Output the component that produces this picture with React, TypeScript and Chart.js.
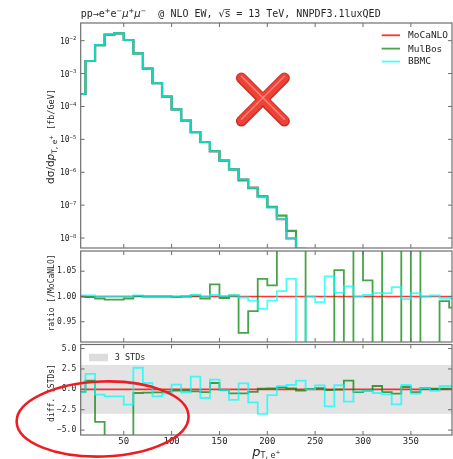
import React, { useEffect, useRef } from "react";
import { Chart, registerables } from "chart.js";

Chart.register(...registerables);

// ---------------- data ----------------
const BIN_EDGES = [0, 10, 20, 30, 40, 50, 60, 70, 80, 90, 100, 110, 120, 130, 140, 150, 160, 170, 180, 190, 200,
  210, 220, 230, 240, 250, 260, 270, 280, 290, 300, 310, 320, 330, 340, 350, 360, 370, 380, 390, 400];
const X_MIN = 5;
const X_MAX = 393;
const X_TICKS = [50, 100, 150, 200, 250, 300, 350];

const SERIES = ["MoCaNLO", "MulBos", "BBMC"];

const XSEC_MOCANLO = [2.39e-4, 2.41e-3, 7.38e-3, 1.52e-2, 1.67e-2, 1.05e-2, 4.12e-3, 1.41e-3, 5.16e-4, 1.99e-4,
  8.18e-5, 3.7e-5, 1.67e-5, 8.3e-6, 4.33e-6, 2.25e-6, 1.23e-6, 6.1e-7, 3.4e-7, 1.8e-7,
  8.7e-8, 3.76e-8, 9.7e-9, 4.0e-9, 2.9e-9, 1.9e-9, 1.2e-9, 7.8e-10, 5.1e-10, 3.3e-10,
  2.2e-10, 1.4e-10, 9.3e-11, 6.1e-11, 4.0e-11, 2.6e-11, 1.7e-11, 1.1e-11, 7.4e-12, 4.9e-12];
const XSEC_MULBOS = [2.39e-4, 2.41e-3, 7.35e-3, 1.51e-2, 1.66e-2, 1.05e-2, 4.12e-3, 1.41e-3, 5.16e-4, 1.99e-4,
  8.17e-5, 3.7e-5, 1.67e-5, 8.27e-6, 4.43e-6, 2.24e-6, 1.23e-6, 5.66e-7, 3.3e-7, 1.86e-7,
  8.9e-8, 4.8e-8, 1.66e-8, 4.7e-9, 2.0e-9, 1.4e-9, 0.9e-9, 8.2e-10, 4.0e-10, 4.3e-10,
  2.27e-10, 1.1e-10, 1.2e-10, 8.0e-11, 3.2e-11, 3.4e-11, 1.3e-11, 0.9e-11, 7.3e-12, 4.8e-12];
const XSEC_BBMC = [2.39e-4, 2.41e-3, 7.38e-3, 1.52e-2, 1.67e-2, 1.05e-2, 4.12e-3, 1.41e-3, 5.16e-4, 1.99e-4,
  8.18e-5, 3.7e-5, 1.67e-5, 8.3e-6, 4.34e-6, 2.25e-6, 1.23e-6, 6.09e-7, 3.37e-7, 1.76e-7,
  8.6e-8, 3.8e-8, 1.0e-8, 3.2e-9, 2.9e-9, 1.88e-9, 1.25e-9, 7.85e-10, 5.2e-10, 3.3e-10,
  2.2e-10, 1.41e-10, 9.4e-11, 6.2e-11, 3.98e-11, 2.62e-11, 1.7e-11, 1.1e-11, 7.38e-12, 4.89e-12];
const XSEC_TICKS = [1e-8, 1e-7, 1e-6, 1e-5, 1e-4, 1e-3, 1e-2];

const RATIO_MOCANLO = [1, 1, 1, 1, 1, 1, 1, 1, 1, 1, 1, 1, 1, 1, 1, 1, 1, 1, 1, 1,
  1, 1, 1, 1, 1, 1, 1, 1, 1, 1, 1, 1, 1, 1, 1, 1, 1, 1, 1, 1];
const RATIO_MULBOS = [1.0, 0.999, 0.996, 0.994, 0.994, 0.996, 1.001, 1.0, 1.0, 1.0,
  0.999, 1.0, 1.002, 0.996, 1.024, 0.997, 1.002, 0.928, 0.971, 1.035,
  1.022, 1.25, 1.6, 1.3, 0.7, 0.75, 0.8, 1.052, 0.8, 1.3,
  1.032, 0.8, 1.3, 1.3, 0.8, 1.3, 0.8, 0.8, 0.991, 0.978];
const RATIO_BBMC = [1.002, 1.002, 1.0, 1.0, 1.0, 1.0, 1.002, 1.0, 1.0, 1.0,
  1.0, 1.0, 1.003, 1.0, 1.003, 1.001, 1.002, 0.998, 0.992, 0.9755,
  0.992, 1.0106, 1.035, 0.8, 1.0, 0.989, 1.04, 1.007, 1.02, 1.0,
  1.003, 1.0066, 1.0066, 1.0185, 0.995, 1.0066, 1.0, 1.002, 0.997, 0.997];
const RATIO_TICKS = [0.95, 1.0, 1.05];

const DIFF_MOCANLO = [0, 0, 0, 0, 0, 0, 0, 0, 0, 0, 0, 0, 0, 0, 0, 0, 0, 0, 0, 0,
  0, 0, 0, 0, 0, 0, 0, 0, 0, 0, 0, 0, 0, 0, 0, 0, 0, 0, 0, 0];
const DIFF_MULBOS = [-0.3, 1.06, -4.0, -7.0, -7.0, -7.0, -0.45, -0.4, -0.37, -0.29,
  -0.16, -0.16, -0.25, -0.33, 0.78, -0.1, -0.5, -0.5, -0.3, 0.08,
  0.12, 0.25, 0.12, -0.16, 0.04, 0.16, -0.08, -0.04, 1.06, -0.33,
  -0.16, 0.41, -0.33, -0.53, 0.29, -0.33, 0.16, 0.08, 0.08, 0.08];
const DIFF_BBMC = [-0.33, 1.9, -0.65, -0.86, -0.86, -1.88, 2.65, 0.78, -0.86, -0.53,
  0.57, -0.41, 1.55, -1.06, 1.2, -0.1, -1.3, 0.73, -1.6, -3.0,
  -0.7, 0.4, 0.53, 1.06, 0.0, 0.49, -2.1, 0.5, -1.5, -0.25,
  -0.16, -0.45, -0.62, -1.84, 0.53, -0.53, 0.16, -0.2, 0.41, 0.41];
const DIFF_TICKS = [-5, -2.5, 0, 2.5, 5];
const STD_BAND = 3;

// annotation overlays seen on the picture (data coordinates)
const CROSS_AT = { x: 195.4, y: 1.69e-4 };
const ELLIPSE_AT = { x: 27.9, y: -3.64 };

// ---------------- style ----------------
const MONO = "'DejaVu Sans Mono', monospace";
const SANS = "'DejaVu Sans', sans-serif";
const TEXT = "#262626";
const FRAME = "#6e6e6e";
const COLORS = ["rgba(255,0,0,0.8)", "rgba(0,128,0,0.72)", "rgba(0,255,255,0.72)"];
const AXIS_W = 80.7;

type Seg = { t: string; font: string; dy?: number };

function drawRich(ctx: CanvasRenderingContext2D, segs: Seg[], x: number, y: number, align: "left" | "center" | "right") {
  ctx.textAlign = "left";
  ctx.textBaseline = "alphabetic";
  const widths = segs.map((s) => {
    ctx.font = s.font;
    return ctx.measureText(s.t).width;
  });
  const total = widths.reduce((a, b) => a + b, 0);
  let cx = align === "center" ? x - total / 2 : align === "right" ? x - total : x;
  segs.forEach((s, i) => {
    ctx.font = s.font;
    ctx.fillText(s.t, cx, y + (s.dy || 0));
    cx += widths[i];
  });
}

function stepPoints(values: number[]) {
  // with stepped 'before', point i's value is held over [edge i, edge i+1]
  return BIN_EDGES.map((x, i) => ({ x, y: values[Math.min(i, values.length - 1)] }));
}

function lineDs(i: number, values: number[], width: number) {
  return {
    label: SERIES[i],
    data: stepPoints(values),
    borderColor: COLORS[i],
    backgroundColor: COLORS[i],
    borderWidth: width,
    stepped: "before" as const,
    pointRadius: 0,
    fill: false,
    order: 2 - i,
  };
}

function xScale(showLabels: boolean, fitHeight: number) {
  return {
    type: "linear" as const,
    min: X_MIN,
    max: X_MAX,
    afterBuildTicks: (s: any) => {
      s.ticks = X_TICKS.map((v) => ({ value: v }));
    },
    ticks: {
      display: showLabels,
      font: { family: MONO, size: 9 },
      color: TEXT,
      padding: 1,
      maxRotation: 0,
      autoSkip: false,
      callback: (v: any) => String(v),
    },
    grid: { display: false, drawTicks: false },
    border: { display: false },
    afterFit: (s: any) => {
      s.height = fitHeight;
      s.paddingLeft = 0;
      s.paddingRight = 0;
    },
  };
}

function yScale(type: "linear" | "logarithmic", min: number, max: number, ticks: number[], showLabels: boolean, cb: (v: number) => string) {
  return {
    type,
    min,
    max,
    afterBuildTicks: (s: any) => {
      s.ticks = ticks.map((v) => ({ value: v }));
    },
    ticks: {
      display: showLabels,
      font: { family: MONO, size: 8 },
      color: TEXT,
      padding: 4.5,
      autoSkip: false,
      callback: (v: any) => cb(Number(v)),
    },
    grid: { display: false, drawTicks: false },
    border: { display: false },
    afterFit: (s: any) => {
      s.width = AXIS_W;
      s.paddingTop = 0;
      s.paddingBottom = 0;
    },
  };
}

function drawFrame(chart: any, yTicks: number[]) {
  const { ctx, chartArea: a, scales } = chart;
  ctx.save();
  ctx.strokeStyle = FRAME;
  ctx.lineWidth = 1.2;
  ctx.strokeRect(a.left, a.top, a.right - a.left, a.bottom - a.top);
  ctx.lineWidth = 1;
  const L = 4;
  ctx.beginPath();
  X_TICKS.forEach((v) => {
    const px = scales.x.getPixelForValue(v);
    ctx.moveTo(px, a.top);
    ctx.lineTo(px, a.top + L);
    ctx.moveTo(px, a.bottom);
    ctx.lineTo(px, a.bottom - L);
  });
  yTicks.forEach((v) => {
    const py = scales.y.getPixelForValue(v);
    ctx.moveTo(a.left, py);
    ctx.lineTo(a.left + L, py);
    ctx.moveTo(a.right, py);
    ctx.lineTo(a.right - L, py);
  });
  ctx.stroke();
  ctx.restore();
}

function drawVerticalLabel(ctx: CanvasRenderingContext2D, segs: Seg[], x: number, y: number) {
  ctx.save();
  ctx.fillStyle = TEXT;
  ctx.translate(x, y);
  ctx.rotate(-Math.PI / 2);
  drawRich(ctx, segs, 0, 0, "center");
  ctx.restore();
}

const MINUS = "\u2212";

function makeTopConfig(): any {
  return {
    type: "line",
    data: {
      datasets: [lineDs(2, XSEC_BBMC, 2.2), lineDs(1, XSEC_MULBOS, 2.2), lineDs(0, XSEC_MOCANLO, 2.2)],
    },
    options: {
      responsive: false,
      animation: false,
      events: [],
      layout: { padding: { left: 0, right: 1, top: 23, bottom: 2 } },
      plugins: { legend: { display: false }, tooltip: { enabled: false }, title: { display: false } },
      scales: {
        x: xScale(false, 0),
        y: yScale("logarithmic", 4.97e-9, 0.0345, XSEC_TICKS, false, (v) => String(v)),
      },
    },
    plugins: [
      {
        id: "topDecor",
        afterDraw(chart: any) {
          const { ctx, chartArea: a, scales } = chart;
          drawFrame(chart, XSEC_TICKS);
          ctx.save();
          ctx.fillStyle = TEXT;
          // log tick labels 10^n
          XSEC_TICKS.forEach((v) => {
            const py = scales.y.getPixelForValue(v);
            const e = String(Math.round(Math.log10(v))).replace("-", MINUS);
            drawRich(
              ctx,
              [
                { t: "10", font: `8px ${MONO}` },
                { t: e, font: `5.5px ${MONO}`, dy: -3.5 },
              ],
              a.left - 4.5,
              py + 3,
              "right"
            );
          });
          // title
          const m = `10px ${MONO}`;
          const sp = `6.8px ${SANS}`;
          drawRich(
            ctx,
            [
              { t: "pp\u2192e", font: m },
              { t: "+", font: sp, dy: -4 },
              { t: "e", font: m },
              { t: MINUS, font: sp, dy: -4 },
              { t: "\u03bc", font: `italic 10px ${SANS}` },
              { t: "+", font: sp, dy: -4 },
              { t: "\u03bc", font: `italic 10px ${SANS}` },
              { t: MINUS, font: sp, dy: -4 },
              { t: "  @ NLO EW, ", font: m },
              { t: "\u221as\u0305", font: `10px ${SANS}` },
              { t: " = 13\u2009TeV, NNPDF3.1luxQED", font: m },
            ],
            a.left,
            17,
            "left"
          );
          // y label
          drawVerticalLabel(
            ctx,
            [
              { t: "d\u03c3/d", font: `10.5px ${SANS}` },
              { t: "p", font: `italic 10.5px ${SANS}` },
              { t: "T, e", font: `7.5px ${SANS}`, dy: 2.5 },
              { t: "+", font: `5.5px ${SANS}`, dy: -1 },
              { t: " [fb/GeV]", font: `8.5px ${MONO}` },
            ],
            a.left - 26.5,
            136.5
          );
          // legend
          const rows = [a.top + 12.3, a.top + 25.6, a.top + 38.5];
          SERIES.forEach((name, i) => {
            ctx.strokeStyle = COLORS[i];
            ctx.lineWidth = 1.8;
            ctx.beginPath();
            ctx.moveTo(a.right - 70.3, rows[i]);
            ctx.lineTo(a.right - 52, rows[i]);
            ctx.stroke();
            ctx.font = `9.5px ${MONO}`;
            ctx.textAlign = "left";
            ctx.textBaseline = "middle";
            ctx.fillStyle = TEXT;
            ctx.fillText(name, a.right - 44, rows[i] + 0.5);
          });
          // red cross annotation
          const cx = scales.x.getPixelForValue(CROSS_AT.x);
          const cy = scales.y.getPixelForValue(CROSS_AT.y);
          const r = 21.5;
          const cross = (dx: number, dy: number) => {
            ctx.beginPath();
            ctx.moveTo(cx - r + dx, cy - r + dy);
            ctx.lineTo(cx + r + dx, cy + r + dy);
            ctx.moveTo(cx + r + dx, cy - r + dy);
            ctx.lineTo(cx - r + dx, cy + r + dy);
            ctx.stroke();
          };
          ctx.lineCap = "round";
          ctx.strokeStyle = "#c8302a";
          ctx.lineWidth = 11;
          cross(0, 0.6);
          ctx.strokeStyle = "#ee4236";
          ctx.lineWidth = 8.5;
          cross(0, 0);
          ctx.strokeStyle = "rgba(255,150,140,0.75)";
          ctx.lineWidth = 1.6;
          cross(0, -1.2);
          ctx.restore();
        },
      },
    ],
  };
}

function makeMidConfig(): any {
  return {
    type: "line",
    data: {
      datasets: [lineDs(2, RATIO_BBMC, 1.8), lineDs(1, RATIO_MULBOS, 1.8), lineDs(0, RATIO_MOCANLO, 1.6)],
    },
    options: {
      responsive: false,
      animation: false,
      events: [],
      layout: { padding: { left: 0, right: 1, top: 2, bottom: 2 } },
      plugins: { legend: { display: false }, tooltip: { enabled: false } },
      scales: {
        x: xScale(false, 0),
        y: yScale("linear", 0.91, 1.09, RATIO_TICKS, true, (v) => v.toFixed(2)),
      },
    },
    plugins: [
      {
        id: "midDecor",
        afterDraw(chart: any) {
          const { ctx, chartArea: a } = chart;
          drawFrame(chart, RATIO_TICKS);
          drawVerticalLabel(ctx, [{ t: "ratio [/MoCaNLO]", font: `8px ${MONO}` }], a.left - 26.5, 293 - 249);
        },
      },
    ],
  };
}

function makeBotConfig(): any {
  return {
    type: "line",
    data: {
      datasets: [lineDs(2, DIFF_BBMC, 1.8), lineDs(1, DIFF_MULBOS, 1.8), lineDs(0, DIFF_MOCANLO, 1.6)],
    },
    options: {
      responsive: false,
      animation: false,
      events: [],
      layout: { padding: { left: 0, right: 1, top: 1.5, bottom: 10 } },
      plugins: { legend: { display: false }, tooltip: { enabled: false } },
      scales: {
        x: xScale(true, 14),
        y: yScale("linear", -5.6, 5.5, DIFF_TICKS, true, (v) => v.toFixed(1).replace("-", MINUS)),
      },
    },
    plugins: [
      {
        id: "botDecor",
        beforeDatasetsDraw(chart: any) {
          const { ctx, chartArea: a, scales } = chart;
          const y1 = scales.y.getPixelForValue(STD_BAND);
          const y2 = scales.y.getPixelForValue(-STD_BAND);
          ctx.save();
          ctx.fillStyle = "#e3e3e3";
          ctx.fillRect(a.left, y1, a.right - a.left, y2 - y1);
          ctx.restore();
        },
        afterDraw(chart: any) {
          const { ctx, chartArea: a, scales } = chart;
          drawFrame(chart, DIFF_TICKS);
          ctx.save();
          // band legend
          ctx.fillStyle = "#dcdcdc";
          ctx.fillRect(a.left + 8.3, a.top + 9.3, 19, 7.5);
          ctx.fillStyle = TEXT;
          ctx.font = `8.5px ${MONO}`;
          ctx.textAlign = "left";
          ctx.textBaseline = "middle";
          ctx.fillText(`${STD_BAND} STDs`, a.left + 34, a.top + 13.4);
          ctx.restore();
          drawVerticalLabel(ctx, [{ t: "diff. [STDs]", font: `8px ${MONO}` }], a.left - 26.5, 393 - 343);
          // x label
          ctx.save();
          ctx.fillStyle = TEXT;
          const cxm = (a.left + a.right) / 2;
          drawRich(
            ctx,
            [
              { t: "p", font: `italic 13px ${SANS}` },
              { t: "T, e", font: `8px ${SANS}`, dy: 2.5 },
              { t: "+", font: `6px ${SANS}`, dy: -1.5 },
            ],
            cxm,
            112.5,
            "center"
          );
          // red ellipse annotation
          const ex = scales.x.getPixelForValue(ELLIPSE_AT.x);
          const ey = scales.y.getPixelForValue(ELLIPSE_AT.y);
          ctx.strokeStyle = "#ee1c24";
          ctx.lineWidth = 2.6;
          ctx.beginPath();
          ctx.ellipse(ex, ey, 86, 37.5, -0.035, 0, Math.PI * 2);
          ctx.stroke();
          ctx.restore();
        },
      },
    ],
  };
}

export default function App() {
  const topRef = useRef<HTMLCanvasElement>(null);
  const midRef = useRef<HTMLCanvasElement>(null);
  const botRef = useRef<HTMLCanvasElement>(null);

  useEffect(() => {
    const charts = [
      new Chart(topRef.current!, makeTopConfig()),
      new Chart(midRef.current!, makeMidConfig()),
      new Chart(botRef.current!, makeBotConfig()),
    ];
    return () => charts.forEach((c) => c.destroy());
  }, []);

  return (
    <div style={{ position: "fixed", left: 0, top: 0, width: 453, height: 459, background: "#fff", overflow: "hidden" }}>
      <canvas ref={topRef} width={453} height={250} style={{ position: "absolute", left: 0, top: 0 }} />
      <canvas ref={midRef} width={453} height={95} style={{ position: "absolute", left: 0, top: 249 }} />
      <canvas ref={botRef} width={453} height={116} style={{ position: "absolute", left: 0, top: 343 }} />
    </div>
  );
}
